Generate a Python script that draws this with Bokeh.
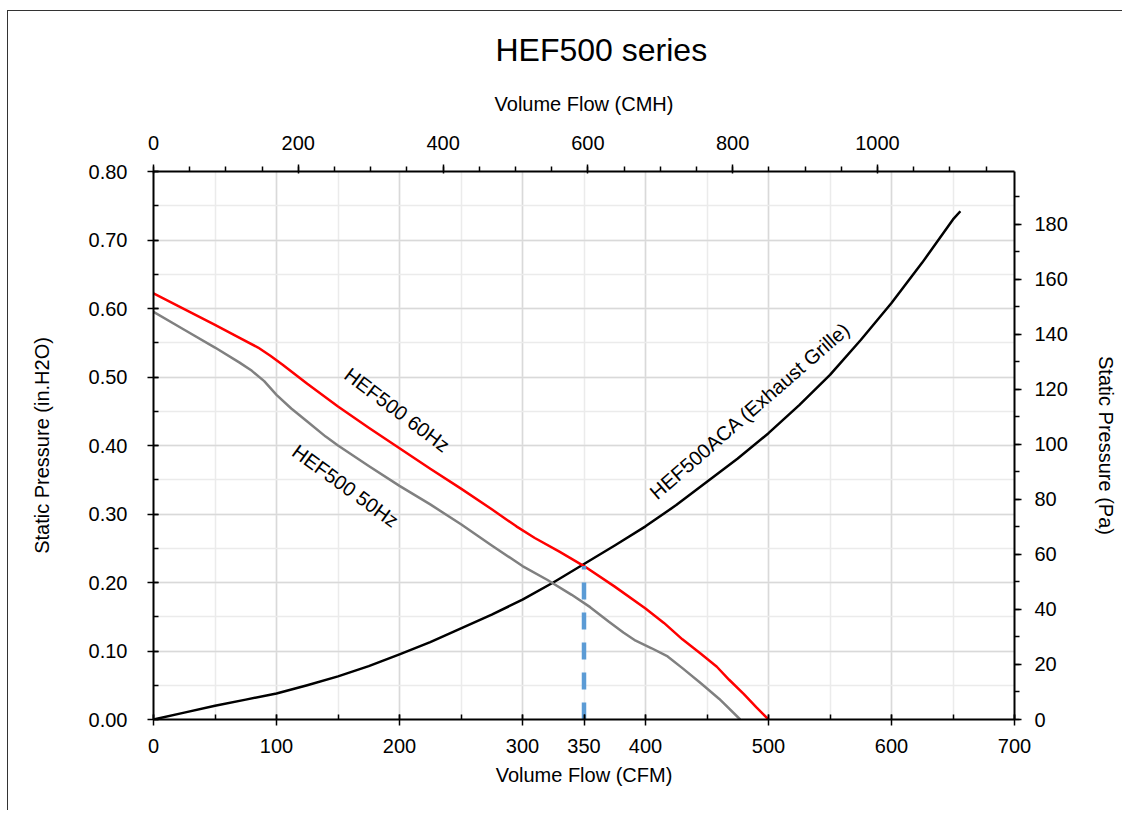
from bokeh.plotting import figure
from bokeh.models import (Range1d, LinearAxis, FixedTicker, NumeralTickFormatter, Title)
from bokeh.core.properties import value
from bokeh.embed import file_html
from bokeh.resources import INLINE

# ---- data (CFM vs in.H2O) ----
hz60_cfm = [0, 25, 50, 70, 85, 95, 105, 125, 150, 175, 200, 225, 250, 275, 295, 310, 330, 350,
            375, 400, 415, 430, 445, 458, 468, 480, 490, 500]
hz60_inh2o = [0.622, 0.599, 0.576, 0.557, 0.543, 0.531, 0.518, 0.490, 0.457, 0.426, 0.396, 0.366,
              0.337, 0.307, 0.282, 0.265, 0.245, 0.224, 0.194, 0.162, 0.141, 0.117, 0.096, 0.077,
              0.058, 0.037, 0.018, 0.0]

hz50_cfm = [0, 25, 50, 70, 80, 90, 100, 112, 125, 140, 150, 175, 200, 225, 250, 275, 300, 320,
            340, 355, 370, 382, 392, 405, 418, 430, 445, 460, 477]
hz50_inh2o = [0.595, 0.569, 0.543, 0.521, 0.509, 0.494, 0.474, 0.454, 0.435, 0.413, 0.400, 0.370,
              0.341, 0.314, 0.285, 0.254, 0.224, 0.204, 0.182, 0.164, 0.143, 0.127, 0.115, 0.104,
              0.092, 0.075, 0.053, 0.030, 0.0]

aca_cfm = [0, 25, 50, 75, 100, 125, 150, 175, 200, 225, 250, 275, 300, 325, 350, 375, 400, 425,
           450, 475, 500, 525, 550, 575, 600, 625, 650, 656]
aca_inh2o = [0.0, 0.010, 0.020, 0.029, 0.038, 0.050, 0.063, 0.078, 0.095, 0.113, 0.133, 0.153,
             0.175, 0.200, 0.227, 0.254, 0.282, 0.313, 0.347, 0.381, 0.418, 0.459, 0.503, 0.554,
             0.608, 0.667, 0.730, 0.742]

op_cfm = [350, 350]
op_inh2o = [0.0, 0.224]

title_text = "HEF500 series"
labels = ["HEF500 60Hz", "HEF500 50Hz", "HEF500ACA (Exhaust Grille)"]

x_ticks = [0, 100, 200, 300, 350, 400, 500, 600, 700]
y_ticks = [0.0, 0.1, 0.2, 0.3, 0.4, 0.5, 0.6, 0.7, 0.8]
cmh_ticks = [0, 200, 400, 600, 800, 1000]
pa_ticks = [0, 20, 40, 60, 80, 100, 120, 140, 160, 180]

CFM_TO_CMH = 1.699011
INH2O_TO_PA = 249.089

FONT = "Liberation Sans"
TXT = "#000000"

p = figure(width=1115, height=800, output_backend="svg", toolbar_location=None,
           x_range=Range1d(0, 700), y_range=Range1d(0, 0.8),
           min_border_left=145, min_border_right=109, min_border_top=158, min_border_bottom=92,
           styles={"border-left": "1px solid #333333", "border-top": "1px solid #333333",
                   "margin-top": "10px", "margin-left": "7px"})
p.outline_line_color = None
p.background_fill_color = "white"
p.border_fill_color = "white"

p.title = Title(text=title_text, align="left", offset=342, vertical_align="top",
                text_font_size="32px", text_font=FONT, text_font_style="normal",
                text_color=TXT, standoff=40)

p.extra_x_ranges = {"cmh": Range1d(0, 700 * CFM_TO_CMH)}
p.extra_y_ranges = {"pa": Range1d(0, 0.8 * INH2O_TO_PA)}

def style_axis(ax, label, major_out, major_in, minor_out, minor_in, tick_standoff, label_standoff):
    ax.axis_label = label
    ax.axis_label_text_font = FONT
    ax.axis_label_text_font_size = "20px"
    ax.axis_label_text_font_style = "normal"
    ax.axis_label_text_color = TXT
    ax.axis_label_standoff = label_standoff
    ax.major_label_text_font = FONT
    ax.major_label_text_font_size = "20px"
    ax.major_label_text_color = TXT
    ax.major_label_standoff = tick_standoff
    ax.axis_line_color = "black"
    ax.axis_line_width = 2
    ax.major_tick_line_color = "black"
    ax.major_tick_line_width = 1.5
    ax.minor_tick_line_color = "black"
    ax.minor_tick_line_width = 1.5
    ax.major_tick_out = major_out
    ax.major_tick_in = major_in
    ax.minor_tick_out = minor_out
    ax.minor_tick_in = minor_in

# bottom axis (CFM)
xa = p.xaxis[0]
xa.ticker = FixedTicker(ticks=x_ticks, minor_ticks=list(range(0, 701, 50)))
style_axis(xa, "Volume Flow (CFM)", 6, 5, 0, 5, 13, 8)

# left axis (in.H2O)
ya = p.yaxis[0]
ya.ticker = FixedTicker(ticks=y_ticks, minor_ticks=[i * 0.05 for i in range(17)])
ya.formatter = NumeralTickFormatter(format="0.00")
style_axis(ya, "Static Pressure (in.H2O)", 6, 5, 0, 5, 20, 33)

# top axis (CMH)
top = LinearAxis(x_range_name="cmh")
top.ticker = FixedTicker(ticks=cmh_ticks, minor_ticks=list(range(0, 1190, 50)))
style_axis(top, "Volume Flow (CMH)", 7, 2, 5, 0, 15, 18)
p.add_layout(top, "above")

# right axis (Pa)
right = LinearAxis(y_range_name="pa")
right.ticker = FixedTicker(ticks=pa_ticks, minor_ticks=list(range(0, 200, 10)))
style_axis(right, "Static Pressure (Pa)", 7, 0, 5, 0, 13, 24)
p.add_layout(right, "right")

# grids
p.xgrid.ticker = FixedTicker(ticks=list(range(0, 701, 100)), minor_ticks=list(range(0, 701, 50)))
p.ygrid.ticker = FixedTicker(ticks=y_ticks, minor_ticks=[i * 0.05 for i in range(17)])
for g in (p.xgrid[0], p.ygrid[0]):
    g.grid_line_color = "#d9d9d9"
    g.grid_line_width = 1.5
    g.minor_grid_line_color = "#ebebeb"
    g.minor_grid_line_width = 1.5

# curves
p.line(aca_cfm, aca_inh2o, line_color="black", line_width=2.5, line_join="round")
p.line(hz50_cfm, hz50_inh2o, line_color="#808080", line_width=2.5, line_join="round")
p.line(hz60_cfm, hz60_inh2o, line_color="#ff0000", line_width=2.5, line_join="round")
p.line(op_cfm, op_inh2o, line_color="#5b9bd5", line_width=4.5, line_dash="17 13")

# curve labels
lab_x = [198, 156, 485]
lab_y = [0.452, 0.341, 0.451]
lab_ang = [-37, -36, 41]
p.text(x=lab_x, y=lab_y, text=labels, angle=lab_ang, angle_units="deg",
       text_font=value(FONT), text_font_size="20px", text_color=TXT,
       text_align="center", text_baseline="middle")

open("out.html", "w").write(file_html(p, INLINE))
